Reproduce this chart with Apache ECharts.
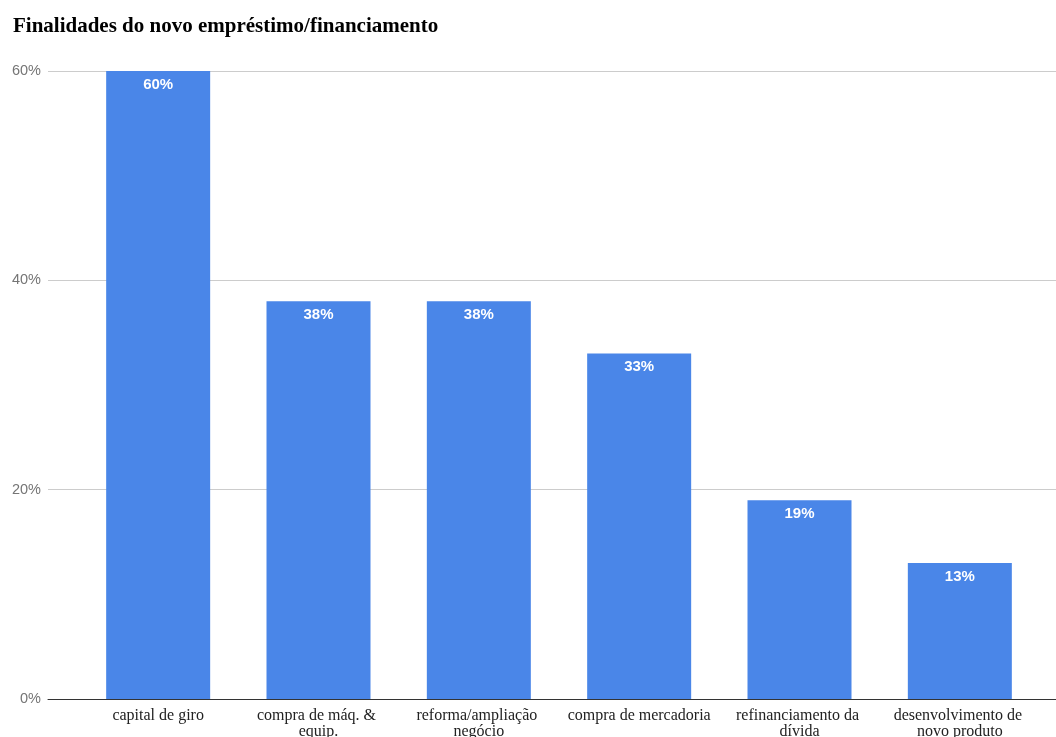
<!DOCTYPE html>
<html><head><meta charset="utf-8">
<script src="https://cdn.jsdelivr.net/npm/echarts@6/dist/echarts.min.js"></script>
<style>html,body{margin:0;padding:0;background:#fff}#c{width:1056px;height:737px}</style>
</head><body><div id="c"></div>
<script>
const titleText = 'Finalidades do novo empréstimo/financiamento';
const categories = ['capital de giro','compra de máq. & equip.','reforma/ampliação negócio','compra de mercadoria','refinanciamento da dívida','desenvolvimento de novo produto'];
const values = [60, 38, 38, 33, 19, 13];
const yTicks = [0, 20, 40, 60];

const chart = echarts.init(document.getElementById('c'));
chart.setOption({
  animation: false,
  title: {text: titleText, left: 8, top: 11, textStyle: {fontFamily: 'Liberation Serif', fontWeight: 'bold', fontSize: 21, color: '#000'}},
  grid: [
    {left: 48, right: 0, top: 71, bottom: 38, containLabel: false, outerBoundsMode: 'none'},
    {left: 78, right: 16, top: 71, bottom: 38, containLabel: false, outerBoundsMode: 'none'}
  ],
  xAxis: [
    {gridIndex: 0, type: 'value', min: 0, max: 1, show: true, axisLine: {show: true, onZero: false, lineStyle: {color: '#333', width: 1}}, axisTick: {show: false}, axisLabel: {show: false}, splitLine: {show: false}},
    {gridIndex: 1, type: 'category', data: categories, axisLine: {show: false}, axisTick: {show: false},
     axisLabel: {interval: 0, margin: 9, width: 150, overflow: 'break', fontFamily: 'Liberation Serif', fontSize: 16, color: '#222', lineHeight: 16}}
  ],
  yAxis: [
    {gridIndex: 0, type: 'value', min: yTicks[0], max: yTicks[yTicks.length-1], interval: 20,
     axisLine: {show: false}, axisTick: {show: false},
     axisLabel: {formatter: '{value}%', fontFamily: 'Liberation Sans', fontSize: 14.5, color: '#757575', margin: 7},
     splitLine: {lineStyle: {color: '#cccccc', width: 1}}},
    {gridIndex: 1, type: 'value', min: 0, max: 60, show: false}
  ],
  series: [{
    type: 'bar', xAxisIndex: 1, yAxisIndex: 1, data: values, barWidth: 104,
    itemStyle: {color: '#4a86e8'},
    label: {show: true, position: 'insideTop', distance: 6, formatter: '{c}%', color: '#fff', fontWeight: 'bold', fontFamily: 'Liberation Sans', fontSize: 15}
  }]
});
</script></body></html>
